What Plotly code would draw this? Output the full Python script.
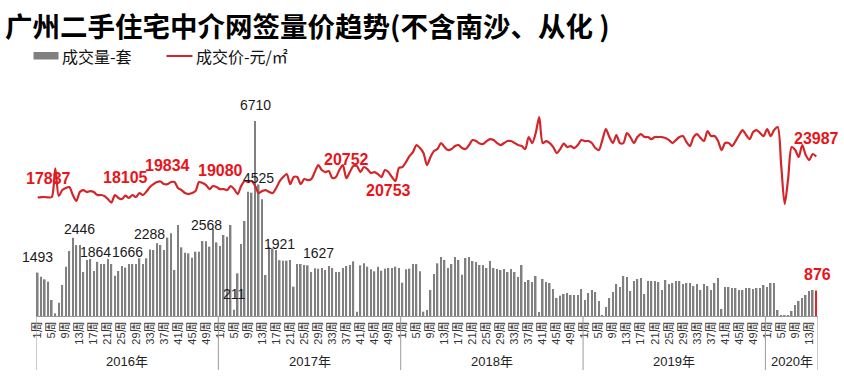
import plotly.graph_objects as go

# ---------------- data ----------------
years = ["2016年", "2017年", "2018年", "2019年", "2020年"]
weeks_per_year = [52, 52, 52, 52, 15]
week_tick_numbers = [1, 5, 9, 13, 17, 21, 25, 29, 33, 37, 41, 45, 49]

volume_2016 = [1493, 1353, 1262, 1181, 551, 92, 459, 1067, 1698, 2237, 2695, 2440, 2446, 1514, 1927, 1961,
               1548, 1864, 1789, 1789, 1961, 1789, 1388, 1548, 1720, 1666, 1789, 1789, 1789, 1984, 1789, 1984,
               2288, 2271, 2500, 2443, 2271, 2700, 2845, 1583, 3131, 2363, 2179, 2156, 2007, 2214, 2214, 2581,
               2568, 2386, 2994, 2535]
volume_2017 = [2409, 2787, 2730, 3131, 211, 1468, 2478, 3269, 4278, 4244, 6710, 4525, 4015, 1411, 2386, 2328,
               2271, 1921, 1904, 1904, 1927, 1009, 1789, 1789, 1755, 1743, 1514, 1640, 1627, 1652, 1583, 1720,
               1652, 1514, 1514, 1652, 1720, 1755, 1881, 149, 1743, 1812, 1698, 1606, 1537, 1698, 1560, 1629,
               1652, 1652, 1698, 1652]
volume_2018 = [1147, 1606, 1629, 1789, 1789, 1537, 149, 206, 895, 1445, 1812, 2030, 1927, 1652, 1789, 2030,
               1927, 1422, 1996, 2030, 1893, 1858, 1755, 1755, 1652, 1893, 1652, 1617, 1583, 1617, 1514, 1617,
               1514, 1342, 1755, 1170, 1239, 1170, 1376, 138, 1273, 1170, 1136, 929, 619, 700, 757, 791,
               723, 723, 723, 929]
volume_2019 = [551, 791, 895, 826, 516, 30, 310, 619, 826, 1101, 998, 1376, 1342, 860, 1204, 1273,
               1308, 757, 1204, 1204, 1204, 1170, 895, 1239, 1101, 1136, 1204, 1204, 1101, 1136, 1136, 1032,
               1101, 895, 1101, 1032, 895, 1136, 1308, 241, 998, 998, 963, 963, 895, 895, 963, 963,
               929, 963, 963, 1067]
volume_2020 = [998, 1136, 1136, 206, 15, 10, 34, 172, 378, 516, 619, 723, 860, 895, 876]

price_2016 = [17837, 17897, 17900, 17837, 17897, 22214, 18048, 18950, 19250, 19400, 18200, 17300, 18650, 18950,
              18650, 18800, 18650, 18200, 18200, 18048, 17597, 17070, 18200, 17750, 17597, 18105, 17750, 18200,
              17900, 18500, 18200, 18724, 19400, 19850, 20150, 20230, 19850, 19834, 20150, 20150, 19250, 18950,
              18500, 18350, 18500, 18800, 20150, 20000, 19700, 19100, 19550, 19400]
price_2017 = [19080, 19100, 18950, 19550, 19100, 18350, 19550, 20300, 20150, 20300, 19550, 18500, 18800, 18950,
              18650, 18500, 19250, 20300, 20906, 21357, 19850, 20906, 20906, 19850, 20605, 20454, 20605, 21658,
              22710, 21958, 21658, 21808, 20755, 20906, 21958, 22710, 20752, 21658, 22560, 22560, 21658, 22410,
              22109, 21507, 21658, 21357, 20906, 21958, 21658, 20906, 20304, 22259]
price_2018 = [22410, 23162, 24064, 24666, 25718, 25267, 24515, 22710, 23914, 24816, 25117, 26019, 25418, 24966,
              25117, 25568, 25718, 25267, 25117, 25718, 26470, 26320, 25944, 25869, 26320, 26621, 26470, 26019,
              25718, 26019, 26320, 26320, 26019, 25718, 25568, 25117, 26922, 26019, 27523, 29930, 26019, 26320,
              26019, 25418, 24515, 25117, 25944, 25418, 25568, 25267, 25718, 26470]
price_2019 = [26320, 26320, 26019, 25267, 24966, 26470, 28125, 26922, 26019, 27222, 26019, 26019, 27523, 26922,
              26019, 26922, 27373, 26922, 26922, 26621, 26922, 26922, 26922, 26771, 26470, 26019, 26470, 26922,
              27072, 26170, 25568, 26922, 27373, 26771, 26320, 27824, 27072, 27072, 26320, 24966, 26019, 26019,
              25568, 26320, 27222, 27974, 27222, 26621, 27674, 27974, 27523, 27072]
price_2020 = [28125, 27072, 27974, 28426, 22710, 16845, 20755, 25418, 24966, 23914, 25718, 24214, 23462, 24365,
              23987]

# labelled points: (week index, label text)
volume_labels = [(0, "1493"), (12, "2446"), (17, "1864"), (25, "1666"), (32, "2288"), (48, "2568"),
                 (56, "211"), (62, "6710"), (63, "4525"), (69, "1921"), (80, "1627")]
price_labels = [(3, "17837"), (25, "18105"), (37, "19834"), (52, "19080"), (88, "20752"),
                (100, "20753"), (222, "23987")]
last_volume_label = (222, "876")

# ---------------- build ----------------
volume = volume_2016 + volume_2017 + volume_2018 + volume_2019 + volume_2020
price = price_2016 + price_2017 + price_2018 + price_2019 + price_2020
n = len(volume)
idx = list(range(n))

tickvals, ticktext = [], []
start = 0
for y, nw in zip(years, weeks_per_year):
    for w in week_tick_numbers:
        if w <= nw:
            tickvals.append(start + w - 1)
            ticktext.append(f"{w}周")
    start += nw

FONT = "Liberation Sans, Arial, Noto Sans CJK SC, sans-serif"
CJK = "Noto Sans CJK SC, sans-serif"
RED = "#d3262a"
GRAY = "#808080"

bar_colors = [GRAY] * (n - 1) + ["#e0262a"]

fig = go.Figure()
fig.add_trace(go.Bar(x=idx, y=volume, marker_color=bar_colors, marker_line_width=0,
                     name="成交量-套", yaxis="y", showlegend=False, hoverinfo="skip"))
fig.add_trace(go.Scatter(x=idx, y=price, mode="lines",
                         line=dict(color=RED, width=2.2, shape="spline", smoothing=0.8),
                         name="成交价-元/㎡", yaxis="y2", showlegend=False, hoverinfo="skip"))

PLOT_TOP, PLOT_BOTTOM = 90, 316
H = PLOT_BOTTOM - PLOT_TOP
L, R = 36, 818
W = R - L
VMAX = 7777
PMAX = 34000

annotations = []
for i, t in volume_labels:
    yshift, xshift = 6, 0
    if t == "1864":
        yshift, xshift = 0, -2
    if t == "1666":
        xshift = 2
    if t == "4525":
        yshift = -3
    annotations.append(dict(x=i, y=int(t), xref="x", yref="y", text=t, showarrow=False,
                            yanchor="bottom", yshift=yshift, xshift=xshift,
                            font=dict(size=14, color="#1a1a1a", family=FONT)))
i, t = last_volume_label
annotations.append(dict(x=i, y=int(t), xref="x", yref="y", text=f"<b>{t}</b>", showarrow=False,
                        yanchor="bottom", yshift=6, xshift=1, font=dict(size=16, color="#e8141a", family=FONT)))
for i, t in price_labels:
    if t == "20753":
        annotations.append(dict(x=i, y=int(t), xref="x", yref="y2", text=f"<b>{t}</b>", showarrow=False,
                                yanchor="top", yshift=-2, font=dict(size=16, color="#e8141a", family=FONT)))
    else:
        annotations.append(dict(x=i, y=int(t), xref="x", yref="y2", text=f"<b>{t}</b>", showarrow=False,
                                yanchor="bottom", yshift=8, font=dict(size=16, color="#e8141a", family=FONT)))

# year labels and separators
shapes = []
start = 0
for y, nw in zip(years, weeks_per_year):
    annotations.append(dict(x=start - 0.5 + nw / 2, y=-(361 - PLOT_BOTTOM) / H, xref="x", yref="paper",
                            text=y, showarrow=False, yanchor="middle",
                            font=dict(size=13, color="#222", family=FONT)))
    shapes.append(dict(type="line", xref="x", yref="paper", x0=start - 0.5, x1=start - 0.5,
                       y0=0, y1=-(370 - PLOT_BOTTOM) / H, line=dict(color="#9a9a9a", width=1)))
    start += nw
shapes.append(dict(type="line", xref="x", yref="paper", x0=start - 0.5, x1=start - 0.5,
                   y0=0, y1=-(370 - PLOT_BOTTOM) / H, line=dict(color="#9a9a9a", width=1)))


def px_x(p):
    return (p - L) / W


def px_y(p):
    return (PLOT_BOTTOM - p) / H


# title
annotations.append(dict(x=px_x(3), y=px_y(24.5), xref="paper", yref="paper", xanchor="left", yanchor="middle",
                        text="<b>广州二手住宅中介网签量价趋势(不含南沙、从化 )</b>", showarrow=False,
                        font=dict(size=27.5, color="#000", family=CJK)))
# legend
LEG_Y = 56
shapes.append(dict(type="rect", xref="paper", yref="paper", x0=px_x(33.5), x1=px_x(58.5),
                   y0=px_y(LEG_Y + 3.5), y1=px_y(LEG_Y - 4), fillcolor=GRAY, line=dict(width=0)))
shapes.append(dict(type="line", xref="paper", yref="paper", x0=px_x(166.5), x1=px_x(192.5),
                   y0=px_y(LEG_Y), y1=px_y(LEG_Y), line=dict(color=RED, width=2)))
annotations.append(dict(x=px_x(60), y=px_y(LEG_Y), xref="paper", yref="paper", xanchor="left", yanchor="middle",
                        text="成交量-套", showarrow=False,
                        font=dict(size=16, color="#111", family=CJK)))
annotations.append(dict(x=px_x(194), y=px_y(LEG_Y), xref="paper", yref="paper", xanchor="left", yanchor="middle",
                        text="成交价-元/㎡", showarrow=False,
                        font=dict(size=16, color="#111", family=CJK)))

fig.update_layout(
    width=844, height=390,
    margin=dict(l=L, r=844 - R, t=PLOT_TOP, b=390 - PLOT_BOTTOM, pad=0),
    paper_bgcolor="white", plot_bgcolor="white",
    bargap=0.55,
    showlegend=False,
    hovermode=False,
    xaxis=dict(range=[-0.5, n - 0.5], tickvals=tickvals, ticktext=ticktext, tickangle=-90,
               tickfont=dict(size=11, color="#333", family="Liberation Sans, Noto Sans CJK SC"),
               showline=True, linecolor="#9a9a9a", linewidth=1, showgrid=False, zeroline=False,
               ticks="", fixedrange=True, automargin=False),
    yaxis=dict(range=[0, VMAX], visible=False, showgrid=False, zeroline=False, fixedrange=True),
    yaxis2=dict(range=[0, PMAX], overlaying="y", visible=False, showgrid=False, zeroline=False,
                fixedrange=True),
    annotations=annotations,
    shapes=shapes,
)

fig.write_html("out.html", config={"displayModeBar": False},
               post_script="document.body.style.margin='0';document.body.style.padding='0';")
